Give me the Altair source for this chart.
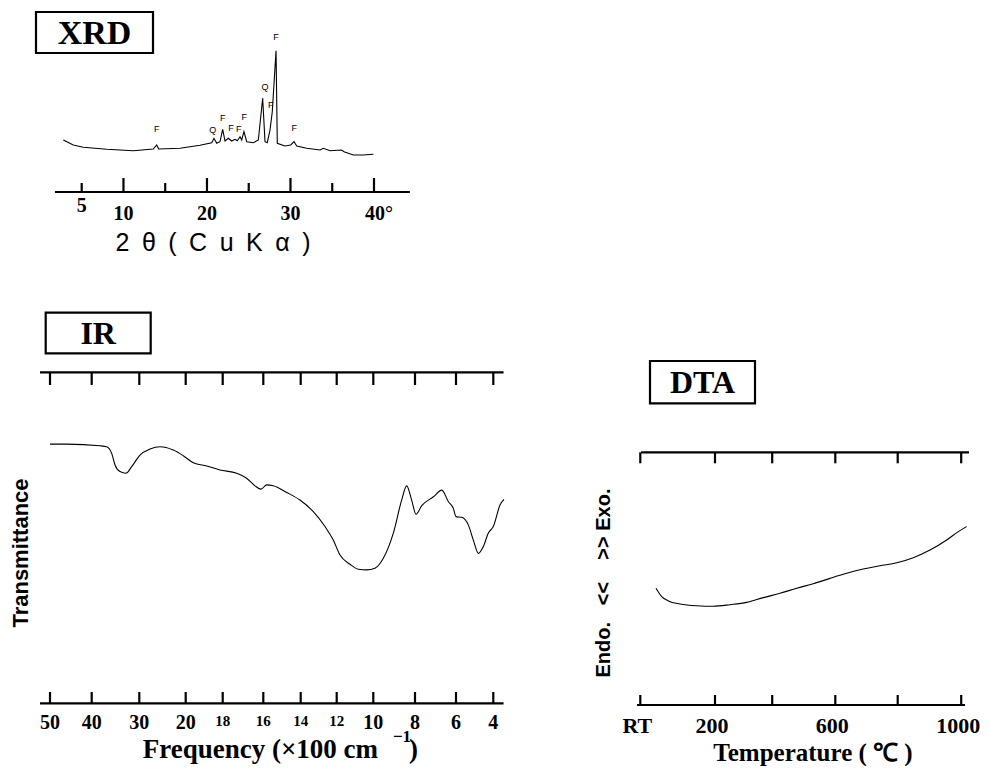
import altair as alt
import pandas as pd

SERIF = "Liberation Serif"
SANS = "Liberation Sans"

# ---------------- XRD data ----------------
xrd_two_theta = [2.80, 3.99, 5.19, 7.99, 11.18, 13.57, 13.98, 14.22, 16.77, 19.17, 20.57, 20.84,
                 21.17, 21.56, 21.88, 22.16, 22.55, 22.96, 23.36, 23.63, 23.96, 24.16, 24.43, 24.76,
                 25.55, 26.15, 26.67, 26.95, 27.22, 27.55, 27.82, 28.27, 28.42, 29.34, 30.03, 30.42,
                 30.75, 31.94, 33.54, 33.93, 34.73, 36.13, 36.41, 37.52, 38.72, 39.92]
xrd_intensity = [20, 15, 12.7, 10.7, 9.3, 11, 15, 11, 11.7, 14.7, 17.3, 21.7,
                 16.7, 18.3, 30.7, 19, 21.7, 19, 20.7, 19.3, 23.3, 20, 28.3, 18.3,
                 17.3, 20, 61.7, 18.3, 17.3, 30, 48.3, 109.3, 16.7, 14, 15, 18.3,
                 14, 11.7, 10, 11.7, 9.3, 10, 8.3, 5, 5, 5.7]
xrd_peak_pos = [13.98, 20.69, 21.88, 22.88, 23.80, 24.47, 26.95, 27.63, 28.27, 30.46]
xrd_peak_height = [31, 30, 41.7, 31.7, 31, 43.3, 72.7, 55, 123.3, 31.7]
xrd_peak_phase = ["F", "Q", "F", "F", "F", "F", "Q", "F", "F", "F"]
xrd_ticks_major = [10, 20, 30, 40]
xrd_ticks_minor = [5, 15, 25, 35]
xrd_label_vals = [10, 20, 30]
xrd_label_text = ["10", "20", "30"]

# ---------------- IR data ----------------
ir_wavenumber = [5000, 4600, 3826, 3685, 3580, 3510, 3405, 3279, 3160, 2985, 2769, 2554, 2267,
                 2052, 1959, 1886, 1815, 1731, 1682, 1641, 1611, 1582, 1547, 1475, 1404, 1330,
                 1265, 1219, 1182, 1127, 1082, 1036, 992, 952, 904, 864, 840, 816, 795, 767,
                 710, 669, 637, 613, 600, 569, 534, 507, 480, 454, 427, 400, 364, 343]
ir_transmittance = [78.3, 78.3, 77.8, 77.5, 75.5, 72.0, 70.0, 69.5, 71.5, 75.0, 76.8, 77.5, 76.5,
                    74.8, 72.7, 71.7, 70.5, 69.5, 68.0, 65.7, 64.7, 66.0, 65.7, 63.7, 61.4, 57.9,
                    53.4, 49.3, 44.8, 42.0, 40.5, 40.3, 40.8, 43.8, 51.4, 61.4, 65.7, 61.4, 57.1, 59.7,
                    62.4, 64.4, 60.9, 58.9, 56.4, 56.2, 53.9, 49.3, 45.3, 47.3, 51.4, 53.4, 59.9, 61.6]
ir_ticks = [5000, 4000, 3000, 2000, 1800, 1600, 1400, 1200, 1000, 800, 600, 400]
ir_big_vals = [5000, 4000, 3000, 2000, 1000, 800, 600, 400]
ir_big_text = ["50", "40", "30", "20", "10", "8", "6", "4"]
ir_small_vals = [1800, 1600, 1400, 1200]
ir_small_text = ["18", "16", "14", "12"]

# ---------------- DTA data ----------------
dta_temp = [57.8, 71.6, 87.5, 115.7, 156, 195.9, 252.4, 310.8, 368.9, 424.7, 477.6, 530.3,
            583.2, 636.5, 689.7, 743.3, 796.8, 849.1, 901.7, 954.3, 990.9, 1017]
dta_signal = [46.2, 42.9, 41.2, 40.0, 39.3, 39.1, 39.7, 40.6, 42.5, 44.2, 46.2, 48.0,
              50.1, 52.1, 53.8, 55.1, 56.3, 58.3, 61.3, 65.3, 68.6, 70.6]
dta_ticks = [20, 200, 400, 600, 800, 1000]
dta_label_vals = [20, 200, 600, 1000]
dta_label_text = ["RT", "200", "600", "1000"]

panel_names = ["XRD", "IR", "DTA"]

# ---------------- scales (layout) ----------------
xrd_x = alt.Scale(domain=[5, 40], range=[73.7, 366], nice=False, zero=False)
xrd_y = alt.Scale(domain=[0, 130], range=[152, 22], nice=False, zero=False)
ir_x = alt.Scale(domain=[400, 600, 800, 1000, 1200, 1400, 1600, 1800, 2000, 3000, 4000, 5000],
                 range=[485.3, 448, 407, 365.3, 328.7, 292.7, 255.3, 214.7, 177.7, 131.3, 83.7, 42],
                 nice=False, zero=False)
ir_y = alt.Scale(domain=[0, 100], range=[695.3, 364.3], nice=False, zero=False)
dta_x = alt.Scale(domain=[20, 200, 400, 600, 800, 1000],
                  range=[632.3, 707, 764.2, 827.3, 889.7, 953.2], nice=False, zero=False)
dta_y = alt.Scale(domain=[0, 100], range=[697, 444.3], nice=False, zero=False)


def hline(a, b, xs, y, sw=2.2):
    df = pd.DataFrame({"a": [a], "b": [b]})
    return alt.Chart(df).mark_rule(color="black", strokeWidth=sw).encode(
        x=alt.X("a:Q", scale=xs, axis=None), x2="b:Q", y=alt.value(y))


def tickmarks(vals, xs, y0, y1, sw=2.2):
    df = pd.DataFrame({"t": vals})
    return alt.Chart(df).mark_rule(color="black", strokeWidth=sw).encode(
        x=alt.X("t:Q", scale=xs, axis=None), y=alt.value(y0), y2=alt.value(y1))


def ticklabels(vals, texts, xs, y, size, font=SERIF, dx=0):
    df = pd.DataFrame({"v": vals, "s": texts})
    return alt.Chart(df).mark_text(font=font, fontSize=size, fontWeight="bold", color="black",
                                   baseline="alphabetic", align="center", dx=dx).encode(
        x=alt.X("v:Q", scale=xs, axis=None), y=alt.value(y), text="s:N")


def one():
    return pd.DataFrame({"k": [0]})


def label_box(name, x0, y0, x1, y1, size=32):
    box = alt.Chart(one()).mark_rect(filled=False, stroke="black", strokeWidth=2.2).encode(
        x=alt.value(x0), x2=alt.value(x1), y=alt.value(y0), y2=alt.value(y1))
    txt = alt.Chart(pd.DataFrame({"s": [name]})).mark_text(
        font=SERIF, fontSize=size, fontWeight="bold", color="black", baseline="middle",
        align="center").encode(x=alt.value((x0 + x1) / 2), y=alt.value((y0 + y1) / 2 + 1), text="s:N")
    return [box, txt]


def free_text(s, x, y, size, font=SERIF, weight="bold", angle=0, align="center", baseline="alphabetic"):
    kw = dict(font=font, fontSize=size, fontWeight=weight, color="black", align=align, baseline=baseline)
    if angle:
        kw["angle"] = angle
    return alt.Chart(pd.DataFrame({"s": [s]})).mark_text(**kw).encode(
        x=alt.value(x), y=alt.value(y), text="s:N")


# ---------------- XRD panel ----------------
xrd_df = pd.DataFrame({"deg": xrd_two_theta, "I": xrd_intensity})
xrd_line = alt.Chart(xrd_df).mark_line(color="black", strokeWidth=1.1).encode(
    x=alt.X("deg:Q", scale=xrd_x, axis=None), y=alt.Y("I:Q", scale=xrd_y, axis=None))
pk_df = pd.DataFrame({"deg": xrd_peak_pos, "I": xrd_peak_height, "p": xrd_peak_phase})
xrd_pk = alt.Chart(pk_df).mark_text(font=SANS, fontSize=9, color="black", baseline="middle").encode(
    x=alt.X("deg:Q", scale=xrd_x, axis=None), y=alt.Y("I:Q", scale=xrd_y, axis=None), text="p:N")
xrd_panel = alt.layer(
    xrd_line, xrd_pk,
    hline(1.8, 44.3, xrd_x, 184),
    tickmarks(xrd_ticks_major, xrd_x, 184, 170),
    tickmarks(xrd_ticks_minor, xrd_x, 184, 175),
    ticklabels(xrd_label_vals, xrd_label_text, xrd_x, 212, 20),
    ticklabels([5], ["5"], xrd_x, 204, 20),
    ticklabels([40], ["40°"], xrd_x, 212, 20, dx=5),
)

# ---------------- IR panel ----------------
ir_df = pd.DataFrame({"wn": ir_wavenumber, "T": ir_transmittance})
ir_line = alt.Chart(ir_df).mark_line(color="black", strokeWidth=1.1, interpolate="monotone").encode(
    x=alt.X("wn:Q", scale=ir_x, axis=None), y=alt.Y("T:Q", scale=ir_y, axis=None))
ir_panel = alt.layer(
    ir_line,
    hline(5240, 345, ir_x, 364.3),
    tickmarks(ir_ticks, ir_x, 364.3, 377),
    hline(5240, 345, ir_x, 695.3),
    tickmarks(ir_ticks, ir_x, 695.3, 684),
    ticklabels(ir_big_vals, ir_big_text, ir_x, 721, 20),
    ticklabels(ir_small_vals, ir_small_text, ir_x, 718, 15),
)

# ---------------- DTA panel ----------------
dta_df = pd.DataFrame({"t": dta_temp, "s": dta_signal})
dta_line = alt.Chart(dta_df).mark_line(color="black", strokeWidth=1.1, interpolate="monotone").encode(
    x=alt.X("t:Q", scale=dta_x, axis=None), y=alt.Y("s:Q", scale=dta_y, axis=None))
dta_panel = alt.layer(
    dta_line,
    hline(21.7, 1024.6, dta_x, 444.3),
    tickmarks(dta_ticks, dta_x, 444.3, 455.3),
    hline(12, 1012, dta_x, 697),
    tickmarks(dta_ticks, dta_x, 697, 687),
    ticklabels(dta_label_vals, dta_label_text, dta_x, 725, 22, dx=-3),
)

# ---------------- decorations ----------------
deco = []
deco += label_box(panel_names[0], 28, 4, 145, 45, size=34)
deco += label_box(panel_names[1], 37.7, 304.7, 142.7, 345.3)
deco += label_box(panel_names[2], 642, 353, 747, 395.3)
deco.append(free_text("2\u2002\u03b8\u2002(\u2002C\u2002u\u2002K\u2002\u03b1\u2002)", 205, 242.7, 25,
                      font=SANS, weight="normal"))
deco.append(free_text("Frequency (\u00d7100 cm", 370, 750, 27, align="right"))
deco.append(free_text("\u22121", 394, 729, 17, baseline="middle"))
deco.append(free_text(")", 401, 750, 27, align="left"))
deco.append(free_text("Temperature ( \u2103 )", 805, 753, 25))
deco.append(free_text("Transmittance", 13, 545, 22, font=SANS, angle=270, baseline="middle"))
deco.append(free_text("Endo.\u00a0\u00a0\u00a0<<\u00a0\u00a0\u00a0\u00a0>>\u00a0Exo.", 596, 575, 20,
                      font=SANS, angle=270, baseline="middle"))

chart = alt.layer(xrd_panel, ir_panel, dta_panel, *deco).resolve_scale(
    x="independent", y="independent"
).properties(
    width=972, height=758, padding=0, autosize="none", background="white"
).configure_view(strokeWidth=0)

chart.save("out.html", embed_options={"renderer": "svg", "actions": False})
